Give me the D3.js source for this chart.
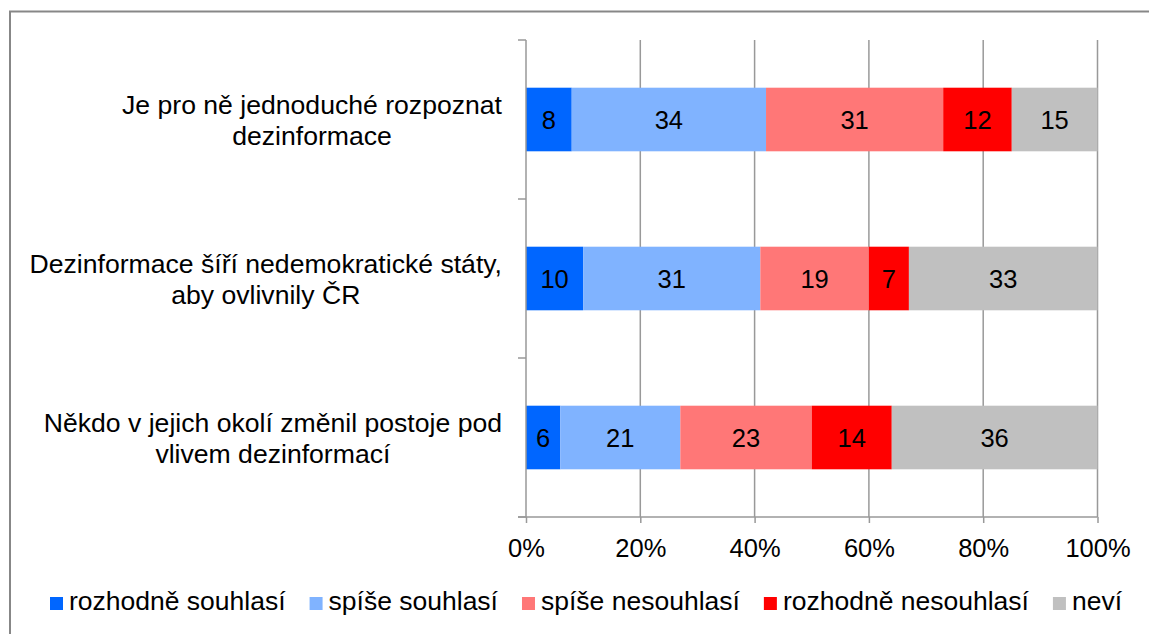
<!DOCTYPE html>
<html><head><meta charset="utf-8">
<script src="https://cdn.jsdelivr.net/npm/d3@7"></script>
<style>body{margin:0;background:#fff}svg{display:block}text{font-family:"Liberation Sans",Arial,sans-serif;fill:#000}</style>
</head><body>
<svg id="c" width="1149" height="634"></svg>
<script>
const categories = [
  ["Je pro ně jednoduché rozpoznat", "dezinformace"],
  ["Dezinformace šíří nedemokratické státy,", "aby ovlivnily ČR"],
  ["Někdo v jejich okolí změnil postoje pod", "vlivem dezinformací"]
];
const seriesNames = ["rozhodně souhlasí", "spíše souhlasí", "spíše nesouhlasí", "rozhodně nesouhlasí", "neví"];
const seriesColors = ["#0066FF", "#80B3FF", "#FF7777", "#FF0000", "#C0C0C0"];
const rozhodneSouhlasi = [8, 10, 6];
const spiseSouhlasi = [34, 31, 21];
const spiseNesouhlasi = [31, 19, 23];
const rozhodneNesouhlasi = [12, 7, 14];
const nevi = [15, 33, 36];
const tickValues = [0, 20, 40, 60, 80, 100];
const tickLabels = ["0%", "20%", "40%", "60%", "80%", "100%"];

const seriesValues = [rozhodneSouhlasi, spiseSouhlasi, spiseNesouhlasi, rozhodneNesouhlasi, nevi];
const svg = d3.select("#c");
const gridColor = "#999999";

// outer border
svg.append("path").attr("d", "M10,640 V11.5 H1160").attr("fill", "none").attr("stroke", "#878787").attr("stroke-width", 2);

const x = d3.scaleLinear().domain([0, 100]).range([526, 1097.5]);
const y = d3.scaleBand().domain(d3.range(categories.length)).range([40, 517]).paddingInner(0.6).paddingOuter(0.3);

// gridlines
svg.append("g").selectAll("line").data(tickValues.slice(1)).join("line")
  .attr("x1", d => x(d)).attr("x2", d => x(d)).attr("y1", 40).attr("y2", 517)
  .attr("stroke", gridColor).attr("stroke-width", 1.5);

// stacked data
const rows = categories.map((c, i) => {
  const o = {i};
  seriesNames.forEach((s, k) => o[s] = seriesValues[k][i]);
  return o;
});
const stack = d3.stack().keys(seriesNames)(rows);

const gBars = svg.append("g");
stack.forEach((layer, k) => {
  const g = gBars.append("g");
  g.selectAll("rect").data(layer).join("rect")
    .attr("x", d => x(d[0])).attr("width", d => x(d[1]) - x(d[0]))
    .attr("y", (d, i) => y(i)).attr("height", y.bandwidth())
    .attr("fill", seriesColors[k]);
  g.selectAll("text").data(layer).join("text")
    .attr("x", d => (x(d[0]) + x(d[1])) / 2)
    .attr("y", (d, i) => y(i) + y.bandwidth() / 2)
    .attr("text-anchor", "middle").attr("dominant-baseline", "central")
    .style("font-size", "25.5px")
    .text(d => d[1] - d[0]);
});

// y axis line and ticks at band boundaries
const yAxisG = svg.append("g");
yAxisG.append("line").attr("x1", 526).attr("x2", 526).attr("y1", 40).attr("y2", 517).attr("stroke", gridColor).attr("stroke-width", 1.5);
const boundaries = d3.range(categories.length + 1).map(i => 40 + i * (477 / categories.length));
yAxisG.selectAll("line.t").data(boundaries).join("line").attr("class", "t")
  .attr("x1", 518).attr("x2", 526).attr("y1", d => d).attr("y2", d => d)
  .attr("stroke", gridColor).attr("stroke-width", 1.5);

// x axis
const xAxis = d3.axisBottom(x).tickValues(tickValues).tickFormat((d, i) => tickLabels[i]).tickSize(6).tickPadding(16);
const xg = svg.append("g").attr("transform", "translate(0,517)").call(xAxis);
xg.select(".domain").remove();
xg.append("line").attr("x1", 518).attr("x2", x(100)).attr("y1", 0).attr("y2", 0).attr("stroke", gridColor).attr("stroke-width", 1.5);
xg.selectAll(".tick line").attr("stroke", gridColor).attr("stroke-width", 1.5);
xg.selectAll(".tick text").style("font-size", "25.5px").attr("font-family", null).attr("fill", "#000");

// category labels
const labelRight = 502;
categories.forEach((lines, i) => {
  const cy = y(i) + y.bandwidth() / 2;
  const g = svg.append("g");
  const ts = lines.map((t, j) => g.append("text").attr("y", cy - 6 + j * 31).style("font-size", "26.6px").attr("text-anchor", "middle").text(t));
  const w = d3.max(ts, t => t.node().getComputedTextLength());
  ts.forEach(t => t.attr("x", labelRight - w / 2));
});

// legend
const lg = svg.append("g");
let lx = 50;
seriesNames.forEach((s, k) => {
  lg.append("rect").attr("x", lx).attr("y", 597).attr("width", 13).attr("height", 13).attr("fill", seriesColors[k]);
  const t = lg.append("text").attr("x", lx + 19).attr("y", 610).style("font-size", "26.5px").text(s);
  lx += 19 + t.node().getComputedTextLength() + 24;
});
</script>
</body></html>
